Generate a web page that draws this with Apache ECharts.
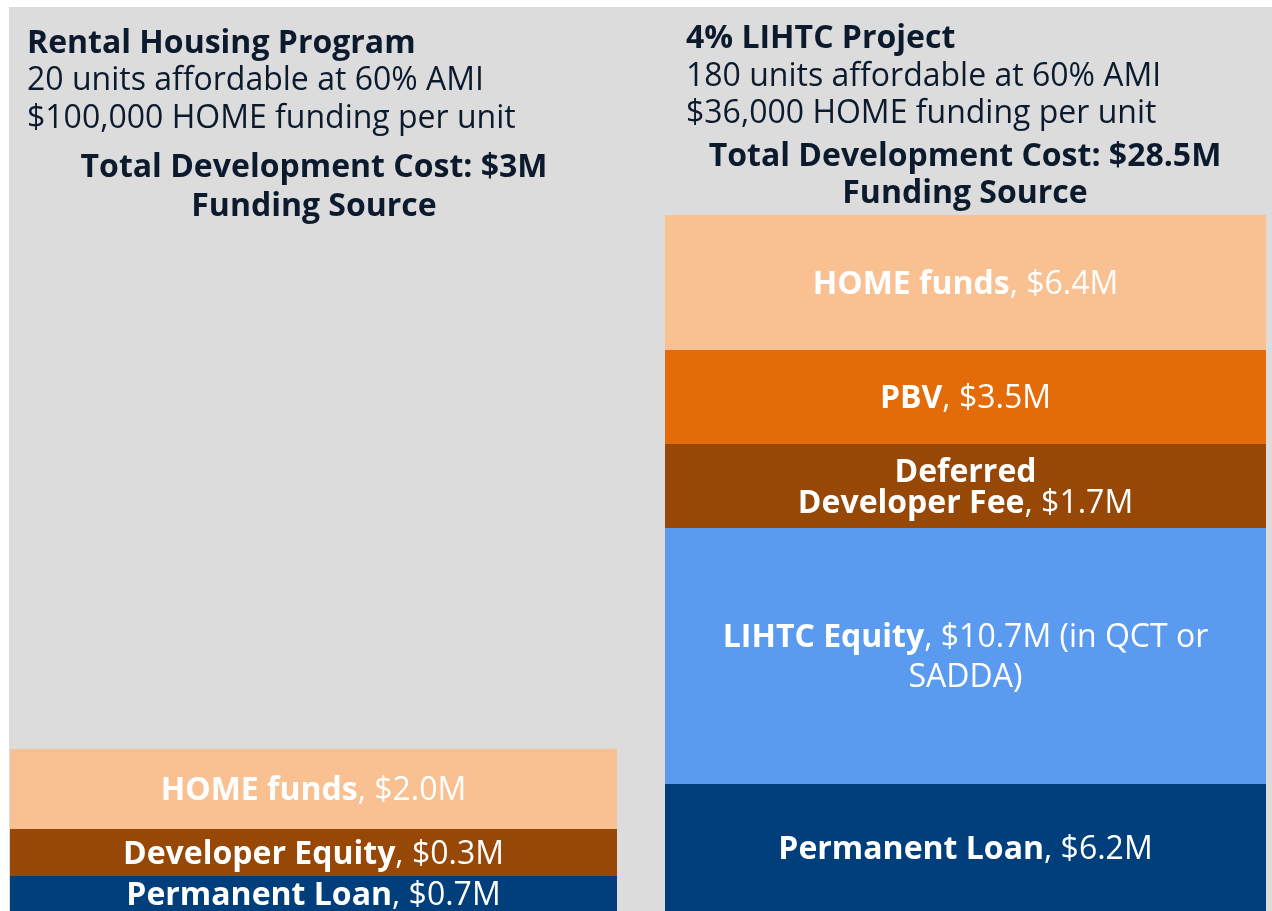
<!DOCTYPE html>
<html>
<head>
<meta charset="utf-8">
<script src="https://cdn.jsdelivr.net/npm/echarts@6/dist/echarts.min.js"></script>
<style>
  html, body { margin: 0; padding: 0; background: #fff; }
  #chart { width: 1272px; height: 911px; }
</style>
</head>
<body>
<div id="chart"></div>
<script>
// segments listed bottom to top
const leftNames = ["Permanent Loan", "Developer Equity", "HOME funds"];
const leftAmounts = ["$0.7M", "$0.3M", "$2.0M"];
const leftHeights = [35, 47, 80]; // drawn heights of the segments as they appear

const rightNames = ["Permanent Loan", "LIHTC Equity", "Deferred\nDeveloper Fee", "PBV", "HOME funds"];
const rightAmounts = ["$6.2M", "$10.7M (in QCT or\nSADDA)", "$1.7M", "$3.5M", "$6.4M"];
const rightHeights = [127, 256, 84, 94, 135];

const leftColors = ["#003E7C", "#974706", "#F9C191"];
const rightColors = ["#003E7C", "#5B9BEF", "#974706", "#E36C09", "#F9C191"];

const ink = "#0c1a2e";
const font = "'Open Sans', 'Noto Sans', sans-serif";

function labelText(name, amount) {
  // bold name, regular amount; line breaks split into separate rich runs
  const nameLines = name.split("\n");
  const amtLines = amount.split("\n");
  const parts = nameLines.map((l) => "{b|" + l + "}");
  parts[parts.length - 1] += "{n|, " + amtLines[0] + "}";
  for (let i = 1; i < amtLines.length; i++) parts.push("{n|" + amtLines[i] + "}");
  return parts.join("\n");
}

function richFor(lh) {
  return {
    b: { fontFamily: font, fontWeight: "bold", fontSize: 32, color: "#fff", lineHeight: lh },
    n: { fontFamily: font, fontWeight: "normal", fontSize: 32, color: "#fff", lineHeight: lh },
  };
}

function makeSeries(names, amounts, heights, colors, axisIdx) {
  return heights.map((h, i) => ({
    type: "bar",
    stack: "s" + axisIdx,
    xAxisIndex: axisIdx,
    yAxisIndex: axisIdx,
    barWidth: "100%",
    data: [h],
    itemStyle: { color: colors[i] },
    label: {
      show: true,
      position: "inside",
      offset: [0, 2],
      formatter: labelText(names[i], amounts[i]),
      rich: richFor(names[i] === "LIHTC Equity" ? 40 : 31),
    },
    silent: true,
  }));
}

function titleBlock(x, lines, total, cx, ys) {
  const els = [];
  lines.forEach((t, i) => {
    els.push({
      type: "text",
      x: x,
      y: ys[i],
      style: {
        text: t,
        fill: ink,
        font: (i === 0 ? "bold " : "") + "32px " + font,
        textAlign: "left",
        textVerticalAlign: "middle",
      },
    });
  });
  [total, "Funding Source"].forEach((t, i) => {
    els.push({
      type: "text",
      x: cx,
      y: ys[3 + i],
      style: {
        text: t,
        fill: ink,
        font: "bold 32px " + font,
        textAlign: "center",
        textVerticalAlign: "middle",
      },
    });
  });
  return els;
}

const chart = echarts.init(document.getElementById("chart"));
chart.setOption({
  backgroundColor: "#fff",
  animation: false,
  grid: [
    { left: 10, top: 0, width: 607, bottom: 0 },
    { left: 665, top: 0, width: 601, bottom: 0 },
  ],
  xAxis: [0, 1].map((i) => ({
    type: "category",
    gridIndex: i,
    data: [""],
    show: false,
  })),
  yAxis: [0, 1].map((i) => ({
    type: "value",
    gridIndex: i,
    min: 0,
    max: 911,
    show: false,
  })),
  graphic: [
    {
      type: "rect",
      z: -10,
      shape: { x: 9, y: 7, width: 1263, height: 904 },
      style: { fill: "#dcdcdc" },
    },
    ...titleBlock(
      27,
      ["Rental Housing Program", "20 units affordable at 60% AMI", "$100,000 HOME funding per unit"],
      "Total Development Cost: $3M",
      314,
      [44, 81, 119, 168, 207]
    ),
    ...titleBlock(
      686,
      ["4% LIHTC Project", "180 units affordable at 60% AMI", "$36,000 HOME funding per unit"],
      "Total Development Cost: $28.5M",
      965,
      [39, 77, 114, 157, 194]
    ),
  ],
  series: [
    ...makeSeries(leftNames, leftAmounts, leftHeights, leftColors, 0),
    ...makeSeries(rightNames, rightAmounts, rightHeights, rightColors, 1),
  ],
});
</script>
</body>
</html>
